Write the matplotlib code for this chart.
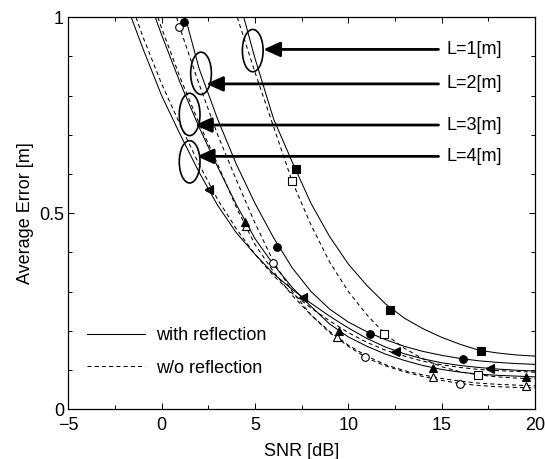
import matplotlib
matplotlib.use("Agg")
import matplotlib.pyplot as plt
from matplotlib.lines import Line2D
from matplotlib.patches import Ellipse

FONT = "Liberation Sans"
FONTSIZE = 13
DPI = 100

# curves: SNR [dB] -> average error [m]
S1_X = [4.4, 5, 6, 7, 8, 9, 10, 11, 12, 13, 14, 15, 16, 17, 18, 19, 20]
S1_Y = [1.0, 0.895, 0.74, 0.63, 0.525, 0.44, 0.37, 0.315, 0.268, 0.232, 0.205, 0.183, 0.165, 0.150, 0.143, 0.138, 0.135]
D1_X = [4.05, 5, 6, 7, 8, 9, 10, 11, 12, 13, 14, 15, 16, 17, 18, 19, 20]
D1_Y = [1.0, 0.86, 0.72, 0.58, 0.47, 0.375, 0.30, 0.24, 0.19, 0.155, 0.128, 0.108, 0.095, 0.087, 0.082, 0.079, 0.077]

S2_X = [1.27, 2, 3, 4, 5, 6, 7, 8, 9, 10, 11, 12, 13, 14, 15, 16, 17, 18, 19, 20]
S2_Y = [1.0, 0.87, 0.74, 0.625, 0.525, 0.437, 0.36, 0.30, 0.255, 0.222, 0.197, 0.177, 0.16, 0.147, 0.137, 0.129, 0.123, 0.119, 0.116, 0.114]
D2_X = [0.8, 1, 2, 3, 4, 5, 6, 7, 8, 9, 10, 11, 12, 13, 14, 15, 16, 17, 18, 19, 20]
D2_Y = [1.0, 0.97, 0.83, 0.70, 0.585, 0.475, 0.375, 0.30, 0.24, 0.195, 0.16, 0.13, 0.11, 0.095, 0.083, 0.073, 0.065, 0.060, 0.057, 0.055, 0.054]

S3_X = [-0.34, 0, 1, 2, 3, 4, 5, 6, 7, 8, 9, 10, 11, 12, 13, 14, 15, 16, 17, 18, 19, 20]
S3_Y = [1.0, 0.955, 0.832, 0.72, 0.618, 0.522, 0.435, 0.368, 0.31, 0.262, 0.217, 0.184, 0.160, 0.140, 0.124, 0.111, 0.101, 0.094, 0.089, 0.086, 0.084, 0.082]
D3_X = [-0.2, 0, 1, 2, 3, 4, 5, 6, 7, 8, 9, 10, 11, 12, 13, 14, 15, 16, 17, 18, 19, 20]
D3_Y = [1.0, 0.972, 0.845, 0.73, 0.625, 0.515, 0.42, 0.35, 0.29, 0.24, 0.198, 0.163, 0.135, 0.113, 0.098, 0.087, 0.078, 0.071, 0.066, 0.063, 0.061, 0.059]

S4_X = [-1.63, -1, 0, 1, 2, 3, 4, 5, 6, 7, 8, 9, 10, 11, 12, 13, 14, 15, 16, 17, 18, 19, 20]
S4_Y = [1.0, 0.92, 0.80, 0.70, 0.605, 0.52, 0.45, 0.395, 0.345, 0.305, 0.27, 0.237, 0.207, 0.18, 0.158, 0.141, 0.128, 0.118, 0.111, 0.106, 0.102, 0.099, 0.097]
D4_X = [-1.37, -1, 0, 1, 2, 3, 4, 5, 6, 7, 8, 9, 10, 11, 12, 13, 14, 15, 16, 17, 18, 19, 20]
D4_Y = [1.0, 0.95, 0.83, 0.725, 0.625, 0.535, 0.46, 0.395, 0.34, 0.295, 0.258, 0.225, 0.195, 0.17, 0.15, 0.135, 0.122, 0.113, 0.106, 0.101, 0.098, 0.096, 0.094]

# marker points
S1_MX, S1_MY = [7.19, 12.24, 17.1], [0.612, 0.254, 0.147]
D1_MX, D1_MY = [6.97, 11.92, 16.95], [0.583, 0.192, 0.087]
S2_MX, S2_MY = [1.21, 6.18, 11.16, 16.13], [0.989, 0.413, 0.192, 0.127]
D2_MX, D2_MY = [0.93, 5.99, 10.88, 15.98], [0.976, 0.374, 0.132, 0.064]
S3_MX, S3_MY = [4.44, 9.49, 14.54, 19.53], [0.477, 0.198, 0.104, 0.083]
D3_MX, D3_MY = [4.50, 9.40, 14.54, 19.53], [0.467, 0.183, 0.081, 0.060]
S4_MX, S4_MY = [2.52, 7.57, 12.52, 17.57], [0.558, 0.286, 0.145, 0.105]
D4_MX, D4_MY = [2.54, 7.59, 12.54, 17.59], [0.562, 0.283, 0.147, 0.103]

LABELS = ["L=1[m]", "L=2[m]", "L=3[m]", "L=4[m]"]
LABEL_Y = [0.918, 0.83, 0.725, 0.645]
ARROW_TIP_X = [5.45, 2.39, 1.79, 1.89]
ELLIPSE_X = [4.88, 2.11, 1.50, 1.50]
ELLIPSE_Y = [0.915, 0.857, 0.752, 0.631]

plt.rcParams["font.family"] = [FONT, "DejaVu Sans"]
plt.rcParams["font.size"] = FONTSIZE
plt.rcParams["lines.scale_dashes"] = False

DASH = (0, (2.9, 2.3))

fig = plt.figure(figsize=(5.45, 4.59), dpi=DPI)
ax = fig.add_axes([0.1253, 0.1089, 0.8564, 0.8534])

series = [
    (S1_X, S1_Y, S1_MX, S1_MY, "s", "-"),
    (D1_X, D1_Y, D1_MX, D1_MY, "s", DASH),
    (S2_X, S2_Y, S2_MX, S2_MY, "o", "-"),
    (D2_X, D2_Y, D2_MX, D2_MY, "o", DASH),
    (S3_X, S3_Y, S3_MX, S3_MY, "^", "-"),
    (D3_X, D3_Y, D3_MX, D3_MY, "^", DASH),
    (S4_X, S4_Y, S4_MX, S4_MY, "<", "-"),
    (D4_X, D4_Y, D4_MX, D4_MY, "<", DASH),
]
for x, y, mx, my, mk, ls in series:
    ax.plot(x, y, color="k", lw=0.75, linestyle=ls)
    solid = ls == "-"
    ax.plot(mx, my, linestyle="none", marker=mk, ms=5.5, mfc="k" if solid else "white",
            mec="k", mew=0.8, zorder=3.2 if solid else 3)

for lab, ly, tip, ex, ey in zip(LABELS, LABEL_Y, ARROW_TIP_X, ELLIPSE_X, ELLIPSE_Y):
    ax.add_patch(Ellipse((ex, ey), 1.11, 0.108, fill=False, lw=1.2, ec="k", zorder=4))
    ax.annotate("", xy=(tip, ly), xytext=(14.83, ly),
                arrowprops=dict(arrowstyle="-|>,head_length=1.0,head_width=0.45",
                                mutation_scale=10, lw=2, color="k", shrinkA=0, shrinkB=0))
    ax.text(15.27, ly, lab, ha="left", va="center", fontsize=FONTSIZE)

handles = [Line2D([], [], color="k", lw=0.75, linestyle="-"),
           Line2D([], [], color="k", lw=0.75, linestyle=DASH)]
ax.legend(handles, ["with reflection", "w/o reflection"], loc="lower left",
          bbox_to_anchor=(0.041, 0.083), frameon=False, handlelength=3.2,
          handletextpad=0.6, labelspacing=0.85, borderpad=0, borderaxespad=0)

ax.set_xlim(-5, 20)
ax.set_ylim(0, 1)
ax.set_xticks([-5, 0, 5, 10, 15, 20])
ax.set_xticks([-2.5, 2.5, 7.5, 12.5, 17.5], minor=True)
ax.set_yticks([0, 0.5, 1])
ax.set_yticklabels(["0", "0.5", "1"], va="center_baseline")
ax.set_yticks([0.1, 0.2, 0.3, 0.4, 0.6, 0.7, 0.8, 0.9], minor=True)
ax.tick_params(which="both", direction="in", top=True, right=True, width=0.7)
ax.tick_params(axis="x", pad=6)
ax.tick_params(axis="y", pad=3)
ax.tick_params(which="major", length=4)
ax.tick_params(which="minor", length=3)
for sp in ax.spines.values():
    sp.set_linewidth(0.9)

ax.set_xlabel("SNR [dB]", labelpad=6)
ax.set_ylabel("Average Error [m]", labelpad=4)

fig.savefig("out.png", dpi=DPI)
